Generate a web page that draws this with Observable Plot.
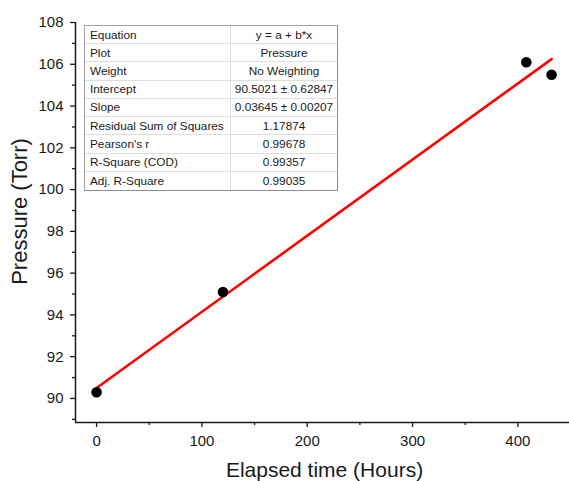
<!DOCTYPE html>
<html>
<head>
<meta charset="utf-8">
<script src="https://cdn.jsdelivr.net/npm/d3@7"></script>
<script src="https://cdn.jsdelivr.net/npm/@observablehq/plot@0.6"></script>
<style>
  body { margin: 0; background: #fff; }
  #wrap { position: relative; width: 569px; height: 481px; overflow: hidden; font-family: "Liberation Sans", Arial, sans-serif; }
  #fit { position: absolute; left: 84px; top: 25px; width: 254px; height: 166px; box-sizing: border-box;
         border: 1px solid #a3a3a3; border-right-color: #8c8c8c; border-bottom-color: #8c8c8c;
         display: grid; grid-template-columns: 146px 1fr; grid-template-rows: repeat(9, 1fr);
         font-size: 11.8px; color: #1a1a1a; background: #fff; }
  #fit div { display: flex; align-items: center; border-bottom: 1px solid #dedede; white-space: nowrap; overflow: hidden; }
  #fit div.l { padding-left: 5px; border-right: 1px solid #dedede; }
  #fit div.v { justify-content: center; }
  #fit div.last { border-bottom: none; }
</style>
</head>
<body>
<div id="wrap"></div>
<script>
// ---- data ----
const hours = [0, 120, 408, 432];
const pressure = [90.3, 95.1, 106.1, 105.5];
const intercept = 90.5021;
const slope = 0.03645;

const xTicks = [0, 100, 200, 300, 400];
const xMinorTicks = [50, 150, 250, 350];
const yTicks = [90, 92, 94, 96, 98, 100, 102, 104, 106, 108];
const yMinorTicks = [89, 91, 93, 95, 97, 99, 101, 103, 105, 107];
const xDomain = [-20, 449];
const yDomain = [88.85, 108];

const xTitle = "Elapsed time (Hours)";
const yTitle = "Pressure (Torr)";

const tableLabels = ["Equation", "Plot", "Weight", "Intercept", "Slope", "Residual Sum of Squares", "Pearson's r", "R-Square (COD)", "Adj. R-Square"];
const tableValues = ["y = a + b*x", "Pressure", "No Weighting", "90.5021 ± 0.62847", "0.03645 ± 0.00207", "1.17874", "0.99678", "0.99357", "0.99035"];

// ---- build ----
const points = hours.map((h, i) => ({x: h, y: pressure[i]}));
const fitLine = [hours[0], hours[hours.length - 1]].map(h => ({x: h, y: intercept + slope * h}));

const plot = Plot.plot({
  width: 569,
  height: 481,
  marginLeft: 75,
  marginRight: 0,
  marginTop: 22,
  marginBottom: 59,
  style: {fontFamily: "'Liberation Sans', Arial, sans-serif", fontSize: "15px", color: "#1a1a1a", background: "#fff", overflow: "visible"},
  x: {domain: xDomain, label: null},
  y: {domain: yDomain, label: null},
  marks: [
    Plot.axisX({ticks: xTicks, tickSize: 5, tickPadding: 8, label: null, strokeWidth: 1.3}),
    Plot.axisX({ticks: xMinorTicks, tickSize: 3, tickFormat: () => "", label: null, strokeWidth: 1.3}),
    Plot.axisY({ticks: yTicks, tickSize: 5, tickPadding: 7, label: null, strokeWidth: 1.3}),
    Plot.axisY({ticks: yMinorTicks, tickSize: 3, tickFormat: () => "", label: null, strokeWidth: 1.3}),
    Plot.ruleX([xDomain[0]], {stroke: "#1a1a1a", strokeWidth: 1.5}),
    Plot.ruleY([yDomain[0]], {stroke: "#1a1a1a", strokeWidth: 1.5}),
    Plot.line(fitLine, {x: "x", y: "y", stroke: "#ff0000", strokeWidth: 2.6}),
    Plot.dot(points, {x: "x", y: "y", r: 5.3, fill: "#000", stroke: "none"}),
    Plot.text([xTitle], {text: d => d, frameAnchor: "bottom", textAnchor: "middle", lineAnchor: "middle", dx: 2, dy: 48, fontSize: 21, fill: "#1a1a1a"}),
    Plot.text([yTitle], {text: d => d, frameAnchor: "left", textAnchor: "middle", lineAnchor: "middle", rotate: -90, dx: -56, dy: -11, fontSize: 22, fill: "#1a1a1a"})
  ]
});

const wrap = document.getElementById("wrap");
wrap.appendChild(plot);

const table = document.createElement("div");
table.id = "fit";
tableLabels.forEach((lab, i) => {
  const a = document.createElement("div");
  a.className = "l" + (i === tableLabels.length - 1 ? " last" : "");
  a.textContent = lab;
  const b = document.createElement("div");
  b.className = "v" + (i === tableLabels.length - 1 ? " last" : "");
  b.textContent = tableValues[i];
  table.appendChild(a);
  table.appendChild(b);
});
wrap.appendChild(table);
</script>
</body>
</html>
